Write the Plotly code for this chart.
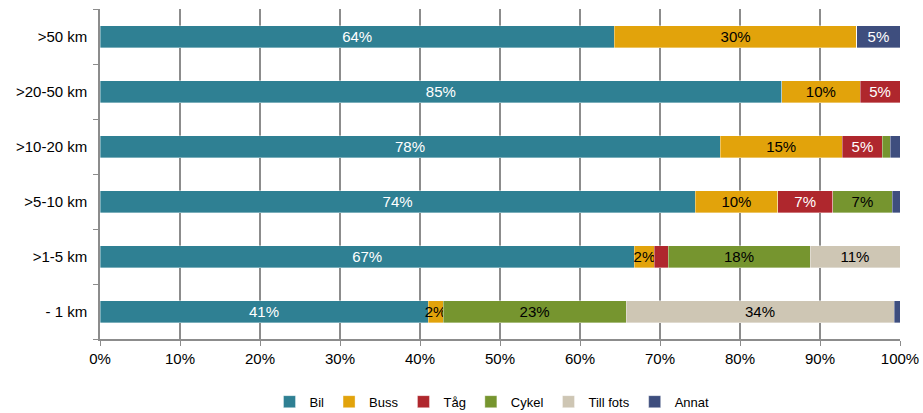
import plotly.graph_objects as go

# avstånd (nederst först, som plotly ritar kategorier)
kategorier = ['- 1 km', '>1-5 km', '>5-10 km', '>10-20 km', '>20-50 km', '>50 km']

bil = [41.0, 66.8, 74.4, 77.5, 85.2, 64.3]
buss = [1.9, 2.5, 10.3, 15.3, 9.8, 30.3]
tag = [0.0, 1.7, 6.9, 5.0, 5.0, 0.0]
cykel = [22.85, 17.75, 7.4, 0.95, 0.0, 0.0]
till_fots = [33.5, 11.25, 0.0, 0.0, 0.0, 0.0]
annat = [0.75, 0.0, 1.0, 1.25, 0.0, 5.4]

serier = [
    ('Bil', bil, '#2F8093', 'white'),
    ('Buss', buss, '#E2A30B', 'black'),
    ('Tåg', tag, '#AF272D', 'white'),
    ('Cykel', cykel, '#76952F', 'black'),
    ('Till fots', till_fots, '#CEC6B4', 'black'),
    ('Annat', annat, '#3E4E7E', 'white'),
]

fig = go.Figure()
for namn, varden, farg, textfarg in serier:
    # etikett bara på segment som är minst ca 2 %
    texter = [f'{round(v)}%' if v >= 1.8 else '' for v in varden]
    fig.add_trace(go.Bar(
        y=kategorier, x=varden, name=namn, orientation='h',
        marker=dict(color=farg, line=dict(color='rgba(255,255,255,0.6)', width=0.6)),
        text=texter, texttemplate='%{text}', textposition='inside',
        insidetextanchor='middle', textangle=0, constraintext='none',
        insidetextfont=dict(color=textfarg, size=15, family='Liberation Sans, Arial'),
        hoverinfo='name+x',
    ))

fig.update_layout(
    barmode='stack', bargap=0.6,
    width=923, height=413,
    margin=dict(l=100, r=23, t=9, b=74, autoexpand=False),
    plot_bgcolor='white', paper_bgcolor='white',
    font=dict(family='Liberation Sans, Arial', size=15, color='black'),
    legend=dict(orientation='h', x=0.49, xanchor='center', y=-0.19, yanchor='middle',
                font=dict(size=13), itemwidth=30, traceorder='normal'),
    xaxis=dict(range=[0, 100], dtick=10, ticksuffix='%', showgrid=True,
               gridcolor='#8C8C8C', gridwidth=1.5, showline=True, linecolor='#8C8C8C',
               linewidth=1.5, ticks='outside', ticklen=5, tickcolor='#8C8C8C',
               zeroline=False, tickfont=dict(size=15), automargin=False),
    yaxis=dict(showline=True, linecolor='#8C8C8C', linewidth=1.5, ticks='outside',
               tickson='boundaries', ticklen=5, tickcolor='#8C8C8C', showgrid=False,
               tickfont=dict(size=15), ticklabelstandoff=8, automargin=False),
)

# sidan har annars 8 px marginal runt diagrammet
fig.write_html("out.html", config={'displayModeBar': False},
               post_script="document.body.style.margin='0';")
